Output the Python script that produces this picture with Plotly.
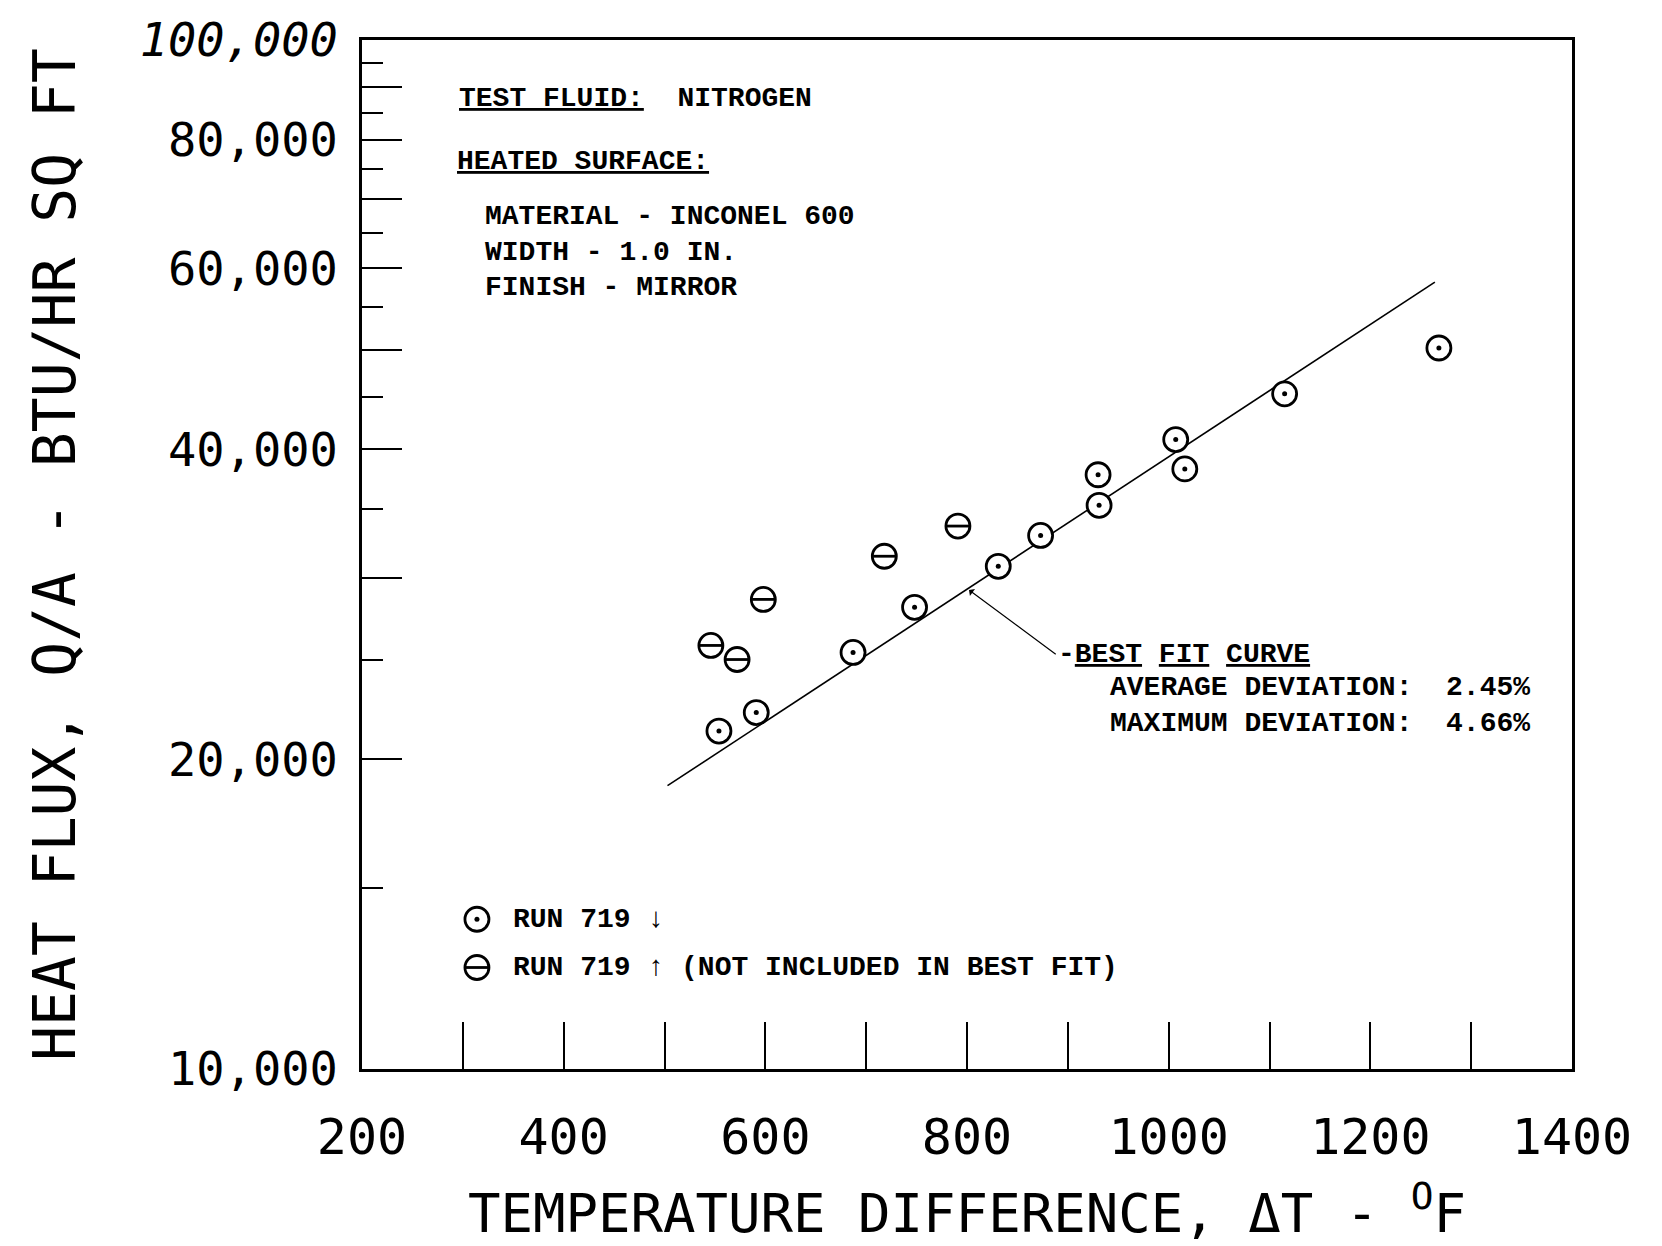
import numpy as np
import plotly.graph_objects as go

# Run 719, points used in the best-fit correlation
run_dt = [554, 591, 687, 748, 831, 873, 931, 930, 1007, 1016, 1115, 1268]
run_q = [21300, 22200, 25400, 28100, 30800, 33000, 35300, 37800, 40900, 38300, 45300, 50200]

# Run 719, points not included in the best fit
excl_dt = [546, 572, 598, 718, 791]
excl_q = [25800, 25000, 28600, 31500, 33700]

# Best-fit curve end points
fit_dt = [503, 1264]
fit_q = [18850, 58170]

# Axis ticks
x_major = [200, 400, 600, 800, 1000, 1200, 1400]
x_minor = [300, 500, 700, 900, 1100, 1300]
y_major = [10000, 20000, 40000, 60000, 80000, 100000]
y_major_text = ["10,000", "20,000", "40,000", "60,000", "80,000", "<i>100,000</i>"]
y_long = [30000, 50000, 70000, 90000]
y_short = [15000, 25000, 35000, 45000, 55000, 65000, 75000, 85000, 95000]

W, H = 1662, 1246
ML, MR, MT, MB = 362, 90, 33, 165

LABEL_FONT = "DejaVu Sans Mono"
TYPE_FONT = "Liberation Mono"

MARK = dict(size=24, color="white", line=dict(color="black", width=2.8))
DOT = dict(symbol="circle", size=5, color="black", line=dict(width=0))
BAR = dict(symbol="line-ew", size=16, color="black",
           line=dict(color="black", width=2.8))

# key symbol positions (lower-left corner of the plot, in axis units)
key_dt = [314, 314]
key_q = [13980, 12550]

fig = go.Figure()

# best-fit line (drawn first so the circles sit on top of it)
fig.add_trace(go.Scatter(
    x=fit_dt, y=fit_q, mode="lines",
    line=dict(color="black", width=1.6),
    hoverinfo="skip", showlegend=False,
))

# excluded points: open circle with a horizontal bar
fig.add_trace(go.Scatter(x=excl_dt, y=excl_q, mode="markers",
                         marker=dict(symbol="circle", **MARK), showlegend=False))
fig.add_trace(go.Scatter(x=excl_dt, y=excl_q, mode="markers", marker=BAR,
                         showlegend=False, hoverinfo="skip"))

# included points: circle with a centre dot
fig.add_trace(go.Scatter(x=run_dt, y=run_q, mode="markers",
                         marker=dict(symbol="circle", **MARK), showlegend=False))
fig.add_trace(go.Scatter(x=run_dt, y=run_q, mode="markers", marker=DOT,
                         showlegend=False, hoverinfo="skip"))

# key symbols
fig.add_trace(go.Scatter(x=key_dt, y=key_q, mode="markers",
                         marker=dict(symbol="circle", **MARK),
                         showlegend=False, hoverinfo="skip"))
fig.add_trace(go.Scatter(x=key_dt[:1], y=key_q[:1], mode="markers", marker=DOT,
                         showlegend=False, hoverinfo="skip"))
fig.add_trace(go.Scatter(x=key_dt[1:], y=key_q[1:], mode="markers", marker=BAR,
                         showlegend=False, hoverinfo="skip"))

# carrier for the short intermediate ticks of the heat-flux axis
fig.add_trace(go.Scatter(x=[None], y=[None], yaxis="y3", mode="markers",
                         showlegend=False, hoverinfo="skip"))

type_font = dict(family=TYPE_FONT, size=28, color="black", weight="bold")


def note(text, x, y, anchor="left"):
    fig.add_annotation(text=text, x=x, y=y, xref="paper", yref="paper",
                       xanchor=anchor, yanchor="middle", showarrow=False,
                       font=type_font)


note("<u>TEST FLUID:</u>  NITROGEN", 0.0787, 0.9434)
note("<u>HEATED SURFACE:</u>", 0.0771, 0.8815)
note("MATERIAL - INCONEL 600", 0.1002, 0.8280)
note("WIDTH - 1.0 IN.", 0.1002, 0.7936)
note("FINISH - MIRROR", 0.1002, 0.7592)

note("AVERAGE DEVIATION:  2.45%", 0.6166, 0.3706)
note("MAXIMUM DEVIATION:  4.66%", 0.6166, 0.3362)

note("RUN 719 \u2193", 0.1234, 0.1455)
note("RUN 719 \u2191 (NOT INCLUDED IN BEST FIT)", 0.1234, 0.0987)

# curve label with its leader pointing at the fitted line
fig.add_annotation(
    text="-<u>BEST</u> <u>FIT</u> <u>CURVE</u>",
    x=802, y=np.log10(29210), xref="x", yref="y",
    ax=888, ay=np.log10(25300), axref="x", ayref="y",
    xanchor="left", yanchor="middle",
    showarrow=True, arrowhead=1, arrowsize=1.2, arrowwidth=1.2,
    arrowcolor="black", standoff=0, startstandoff=0,
    font=type_font,
)

fig.update_layout(
    width=W, height=H, autosize=False,
    margin=dict(l=ML, r=MR, t=MT, b=MB, pad=0),
    paper_bgcolor="white", plot_bgcolor="white",
    showlegend=False,
    xaxis=dict(
        range=[200, 1400], showgrid=False, zeroline=False,
        showline=True, mirror=True, linecolor="black", linewidth=2.6,
        ticks="inside", ticklen=47, tickwidth=1.6, tickcolor="black",
        tickvals=x_major, ticktext=[str(v) for v in x_major],
        minor=dict(tickvals=x_minor, ticks="inside", ticklen=47,
                   tickwidth=1.6, tickcolor="black", showgrid=False),
        tickfont=dict(family=LABEL_FONT, size=50, color="black"),
        ticklabelstandoff=22,
        title=dict(text="TEMPERATURE DIFFERENCE, \u0394T - <sup>O</sup>F\u00a0\u00a0",
                   font=dict(family=LABEL_FONT, size=54, color="black"),
                   standoff=30),
    ),
    yaxis=dict(
        type="log", range=[4, 5], showgrid=False, zeroline=False,
        showline=True, mirror=True, linecolor="black", linewidth=2.6,
        ticks="inside", ticklen=40, tickwidth=2.2, tickcolor="black",
        tickvals=y_major, ticktext=y_major_text,
        minor=dict(tickvals=y_long, ticks="inside", ticklen=40,
                   tickwidth=2.2, tickcolor="black", showgrid=False),
        tickfont=dict(family=LABEL_FONT, size=47, color="black"),
        ticklabelstandoff=12,
        title=dict(text="HEAT FLUX, Q/A - BTU/HR SQ FT",
                   font=dict(family=LABEL_FONT, size=58, color="black"),
                   standoff=46),
    ),
    yaxis3=dict(
        type="log", range=[4, 5], overlaying="y", side="left",
        showgrid=False, zeroline=False, showline=False,
        ticks="inside", ticklen=21, tickwidth=2.2, tickcolor="black",
        tickvals=y_short, showticklabels=False, fixedrange=True,
    ),
)

fig.write_html("out.html")
